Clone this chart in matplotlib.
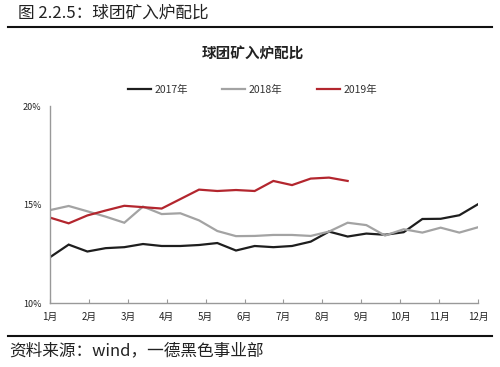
import matplotlib
matplotlib.use('Agg')
import matplotlib.pyplot as plt
from matplotlib.lines import Line2D

plt.rcParams['font.family'] = ['Noto Sans CJK SC', 'DejaVu Sans']

# semi-monthly observation positions (in months)
x_pos = [1.00, 1.48, 1.96, 2.43, 2.91, 3.39, 3.87, 4.35, 4.83, 5.30, 5.78, 6.26,
         6.74, 7.22, 7.70, 8.17, 8.65, 9.13, 9.61, 10.09, 10.57, 11.04, 11.52, 12.00]
month_labels = ['1月', '2月', '3月', '4月', '5月', '6月', '7月', '8月', '9月', '10月', '11月', '12月']

y2017 = [12.33, 12.97, 12.62, 12.79, 12.84, 13.00, 12.90, 12.90, 12.95, 13.05, 12.67, 12.90,
         12.84, 12.90, 13.12, 13.63, 13.38, 13.53, 13.47, 13.60, 14.27, 14.28, 14.46, 15.02]
y2018 = [14.72, 14.93, 14.66, 14.39, 14.08, 14.90, 14.52, 14.56, 14.20, 13.66, 13.40, 13.41,
         13.46, 13.46, 13.41, 13.63, 14.08, 13.96, 13.43, 13.75, 13.58, 13.83, 13.58, 13.85]
y2019 = [14.34, 14.05, 14.45, 14.70, 14.94, 14.87, 14.80, 15.28, 15.76, 15.69, 15.74, 15.69,
         16.20, 15.99, 16.32, 16.37, 16.20]

series = [('2017年', y2017, '#1e1e1e'),
          ('2018年', y2018, '#a3a3a3'),
          ('2019年', y2019, '#b3262e')]

fig = plt.figure(figsize=(5, 3.67), dpi=100)
ax = fig.add_axes([0.1, 0.174, 0.856, 0.537])

for name, vals, color in series:
    ax.plot(x_pos[:len(vals)], [v / 100 for v in vals], color=color, lw=1.6,
            label=name, solid_joinstyle='miter')

ax.set_xlim(1, 12)
ax.set_ylim(0.10, 0.20)
ax.set_xticks(range(1, 13))
ax.set_xticklabels(month_labels, fontsize=7, color='#222222')
ax.set_yticks([0.10, 0.15, 0.20])
ax.set_yticklabels(['10%', '15%', '20%'], fontsize=6.5, color='#222222')
ax.tick_params(axis='x', direction='in', length=3, color='#999999', pad=6)
ax.tick_params(axis='y', length=0, pad=6)
for s in ['top', 'right']:
    ax.spines[s].set_visible(False)
for s in ['left', 'bottom']:
    ax.spines[s].set_color('#999999')
    ax.spines[s].set_linewidth(1.0)

# legend
handles = [Line2D([], [], color=c, lw=1.6) for _, _, c in series]
fig.legend(handles, [n for n, _, _ in series], loc='center', bbox_to_anchor=(0.505, 0.755),
           ncol=3, frameon=False, fontsize=7.5, handlelength=2.2, handletextpad=0.35,
           columnspacing=3.3, labelcolor='#333333')

fig.text(0.505, 0.855, '球团矿入炉配比', ha='center', va='center', fontsize=10.5,
         fontweight='bold', color='#222222')

# header and footer
fig.text(0.036, 0.964, '图 2.2.5：球团矿入炉配比', ha='left', va='center', fontsize=12,
         color='#222222')
fig.add_artist(Line2D([0.016, 0.984], [0.926, 0.926], color='#111111', lw=1.5))
fig.add_artist(Line2D([0.016, 0.984], [0.085, 0.085], color='#111111', lw=1.5))
fig.text(0.018, 0.045, '资料来源：wind，一德黑色事业部', ha='left', va='center', fontsize=12,
         color='#222222')

fig.savefig('out.png', dpi=100)
